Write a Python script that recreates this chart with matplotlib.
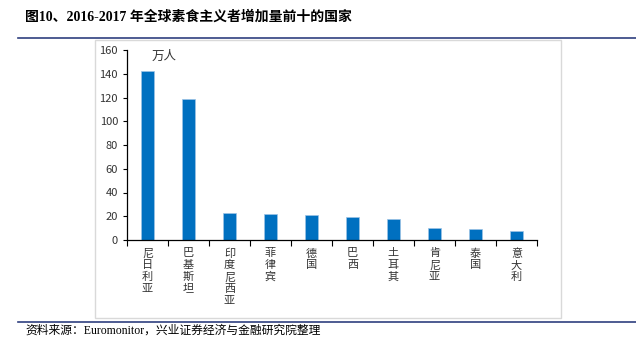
import matplotlib.pyplot as plt
from matplotlib.patches import Rectangle
from matplotlib.lines import Line2D

plt.rcParams['font.family'] = ['Noto Sans CJK SC', 'DejaVu Sans']

countries = ['尼日利亚', '巴基斯坦', '印度尼西亚', '菲律宾', '德国',
             '巴西', '土耳其', '肯尼亚', '泰国', '意大利']
growth = [142, 119, 23, 22, 21, 19, 18, 10, 9, 8]  # 万人
yticks = list(range(0, 161, 20))

bar_color = '#0070C0'
frame_color = '#D9D9D9'
rule_color = '#2F3F7F'
serif_cjk = ['Liberation Serif', 'Noto Sans CJK SC']


def main():
    fig = plt.figure(figsize=(6.36, 3.48), dpi=100)

    # title and rules
    fig.text(25 / 636, 1 - 17 / 348, '图10、2016-2017 年全球素食主义者增加量前十的国家',
             fontsize=10, fontweight='bold', family=serif_cjk,
             va='center', ha='left', color='black')
    fig.add_artist(Line2D([18 / 636, 1], [1 - 38 / 348] * 2, color=rule_color, lw=1.2))
    fig.add_artist(Line2D([18 / 636, 1], [1 - 322 / 348] * 2, color=rule_color, lw=1.2))
    fig.add_artist(Rectangle((95 / 636, 1 - 318 / 348), 466 / 636, 278 / 348,
                             fill=False, edgecolor=frame_color, lw=1))
    fig.text(25 / 636, 1 - 331 / 348, '资料来源：Euromonitor，兴业证券经济与金融研究院整理',
             fontsize=8.5, family=serif_cjk, va='center', ha='left', color='black')

    ax = fig.add_axes([127 / 636, 1 - 240 / 348, 410 / 636, 190 / 348])
    x = range(len(countries))
    ax.bar(x, growth, width=0.31, color=bar_color, edgecolor='#9DC3E6', linewidth=0.5)

    ax.set_xlim(-0.5, len(countries) - 0.5)
    ax.set_ylim(0, 160)
    ax.set_yticks(yticks)
    ax.tick_params(axis='y', labelsize=8, length=3, width=0.8, direction='out',
                   colors='black', labelcolor='#333333')

    # x ticks at category boundaries, labels at centres
    ax.set_xticks([i - 0.5 for i in range(len(countries) + 1)])
    ax.set_xticklabels([])
    ax.tick_params(axis='x', which='major', length=4, width=0.8, direction='out')
    ax.set_xticks(list(x), minor=True)
    ax.set_xticklabels(['\n'.join(c) for c in countries], minor=True,
                       fontsize=8, color='#333333', linespacing=1.2, va='top')
    ax.tick_params(axis='x', which='minor', length=0, pad=6)

    for side in ['top', 'right']:
        ax.spines[side].set_visible(False)
    ax.spines['left'].set_linewidth(0.9)
    ax.spines['bottom'].set_linewidth(0.9)

    ax.text(0.06, 1.0, '万人', transform=ax.transAxes, fontsize=9,
            va='top', ha='left', color='#333333')

    plt.savefig('out.png', dpi=100)


if __name__ == '__main__':
    main()
